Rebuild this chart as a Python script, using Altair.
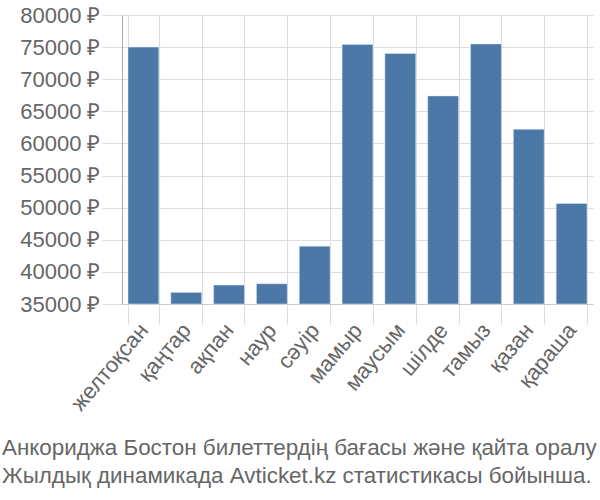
import altair as alt
import pandas as pd

months = ["желтоқсан", "қаңтар", "ақпан", "наур", "сәуір", "мамыр",
          "маусым", "шілде", "тамыз", "қазан", "қараша"]
prices = [75000, 36800, 37950, 38150, 44000, 75400, 74000, 67400, 75500, 62200, 50650]
baseline = 35000

title_lines = ["Анкориджа Бостон билеттердің бағасы және қайта оралу",
               "Жылдық динамикада Avticket.kz статистикасы бойынша."]

df = pd.DataFrame({"month": months, "price": prices})

FONT = "Liberation Sans"

chart = alt.Chart(df).mark_bar(color="#4c78a8", stroke="#dbe6f3", strokeWidth=0.5).encode(
    x=alt.X("month:N", sort=months, title=None,
            scale=alt.Scale(paddingInner=0.28, paddingOuter=0.14),
            axis=alt.Axis(labelAngle=-50, labelFontSize=22, labelColor="#666666",
                          labelFont=FONT, tickBand="extent", grid=True,
                          gridColor="#dddddd", tickColor="#dddddd", tickSize=20,
                          domainColor="#cccccc", labelPadding=2)),
    y=alt.Y("price:Q", title=None,
            scale=alt.Scale(domain=[35000, 80000], zero=False, nice=False),
            axis=alt.Axis(values=list(range(35000, 80001, 5000)),
                          labelExpr="datum.value + ' ₽'",
                          labelFontSize=22, labelColor="#666666", labelFont=FONT,
                          gridColor="#dddddd", tickColor="#dddddd", tickSize=20,
                          domainColor="#aaaaaa", labelPadding=2)),
    y2=alt.datum(baseline),
).properties(
    width=471, height=289,
    padding={"left": 122, "top": 15, "right": 7, "bottom": 196},
    autosize=alt.AutoSizeParams(type="none"),
    title=alt.TitleParams(text=title_lines, orient="bottom", anchor="start",
                          frame="group", dx=-120, offset=23, fontSize=22.4,
                          font=FONT, fontWeight="normal", color="#666666",
                          lineHeight=28),
).configure_view(stroke=None)

chart.save("out.html", embed_options={"renderer": "svg", "actions": False})
